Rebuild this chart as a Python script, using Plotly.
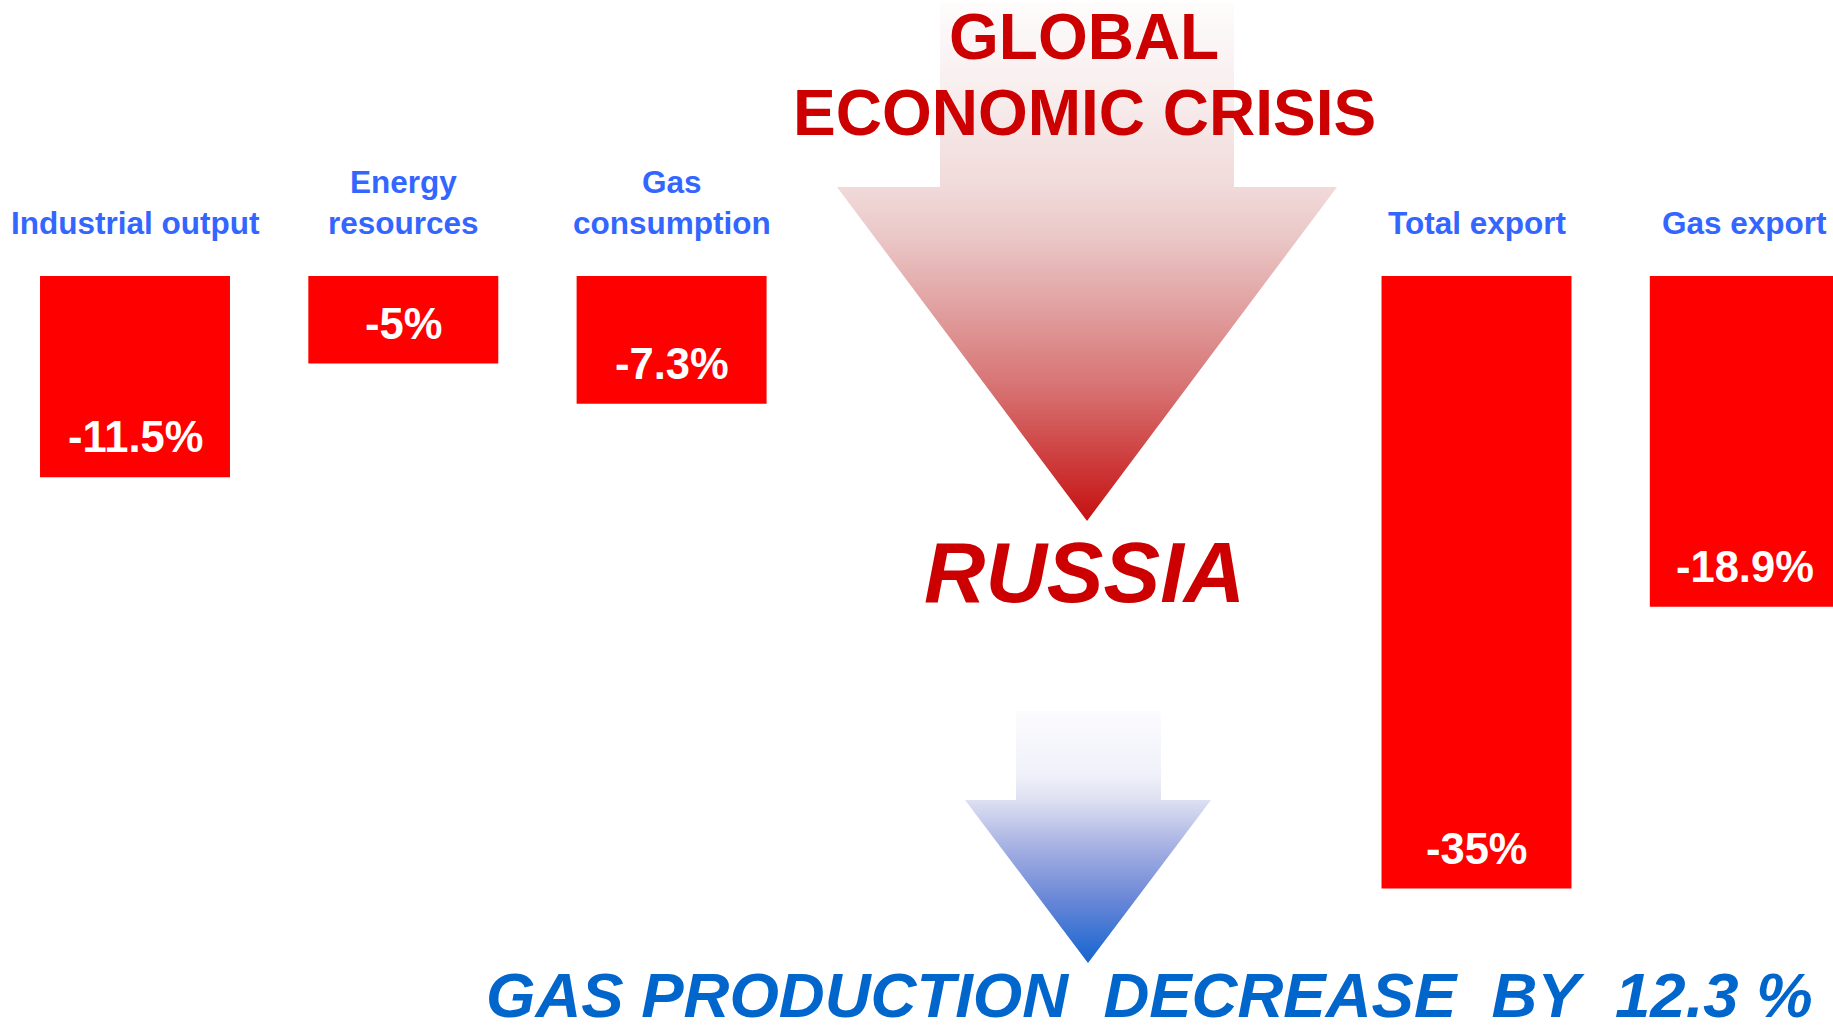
import plotly.graph_objects as go

# ---------------- data ----------------
categories = ["Industrial output", "Energy<br>resources", "Gas<br>consumption", "Total export", "Gas export"]
cat_positions = [0, 1, 2, 5, 6]
values = [-11.5, -5, -7.3, -35, -18.9]
value_labels = ["-11.5%", "-5%", "-7.3%", "-35%", "-18.9%"]

title_lines = ["GLOBAL", "ECONOMIC CRISIS"]
country = "RUSSIA"
conclusion = "GAS PRODUCTION\u00a0\u00a0DECREASE\u00a0\u00a0BY\u00a0\u00a012.3\u00a0%"

# ---------------- style / layout geometry (pixel overlay) ----------------
W, H = 1833, 1031
FONT = "Arial, Liberation Sans, sans-serif"
BAR_RED = "#FF0000"
LABEL_BLUE = "#3366FF"
TITLE_RED = "#CC0000"
BOTTOM_BLUE = "#0066CC"

red_arrow = dict(shaft=(940, 1234), top=2, head_top=187, head=(837, 1337), tip=(1087, 521))
blue_arrow = dict(shaft=(1016, 1161), top=711, head_top=800, head=(965, 1211), tip=(1088, 963))

red_scale = [
    [0.00, "rgb(254,252,252)"],
    [0.17, "rgb(248,238,238)"],
    [0.36, "rgb(241,217,217)"],
    [0.45, "rgb(235,200,200)"],
    [0.59, "rgb(225,160,160)"],
    [0.75, "rgb(215,112,112)"],
    [0.88, "rgb(206,62,62)"],
    [1.00, "rgb(198,16,16)"],
]
blue_scale = [
    [0.00, "rgb(252,252,255)"],
    [0.25, "rgb(240,241,250)"],
    [0.35, "rgb(222,225,242)"],
    [0.55, "rgb(163,174,226)"],
    [0.75, "rgb(105,135,215)"],
    [1.00, "rgb(20,100,208)"],
]


def arrow_path(a):
    (sx0, sx1), top, ht, (hx0, hx1), (tx, ty) = a["shaft"], a["top"], a["head_top"], a["head"], a["tip"]
    xs = [sx0, sx1, sx1, hx1, tx, hx0, sx0, sx0]
    ys = [top, top, ht, ht, ty, ht, ht, top]
    return xs, ys


fig = go.Figure()

# bars
fig.add_trace(go.Bar(
    x=cat_positions, y=values, width=0.708,
    marker=dict(color=BAR_RED, line=dict(width=0)),
    hoverinfo="skip", showlegend=False,
))

# arrows on pixel overlay axes
for a, cs in ((red_arrow, red_scale), (blue_arrow, blue_scale)):
    xs, ys = arrow_path(a)
    fig.add_trace(go.Scatter(
        x=xs, y=ys, xaxis="x2", yaxis="y2", mode="lines",
        line=dict(width=0), fill="toself",
        fillgradient=dict(type="vertical", colorscale=cs, start=a["top"], stop=a["tip"][1]),
        hoverinfo="skip", showlegend=False,
    ))

annotations = []
# category labels above bars
for pos, cat in zip(cat_positions, categories):
    annotations.append(dict(
        x=pos, y=0, xref="x", yref="y", text=f"<b>{cat}</b>", showarrow=False,
        yanchor="bottom", yshift=33, font=dict(family=FONT, size=31.5, color=LABEL_BLUE),
    ))
# value labels inside bars
for pos, v, lab in zip(cat_positions, values, value_labels):
    annotations.append(dict(
        x=pos, y=v, xref="x", yref="y", text=f"<b>{lab}</b>", showarrow=False,
        yanchor="middle", yshift=40, font=dict(family=FONT, size=43.5, color="white"),
    ))
# title lines
for txt, yy in zip(title_lines, (37, 113)):
    annotations.append(dict(
        x=1084, y=yy, xref="x2", yref="y2", text=f"<b>{txt}</b>", showarrow=False,
        yanchor="middle", font=dict(family=FONT, size=64, color=TITLE_RED),
    ))
annotations.append(dict(
    x=1084, y=572, xref="x2", yref="y2", text=f"<b><i>{country}</i></b>", showarrow=False,
    yanchor="middle", font=dict(family=FONT, size=85, color=TITLE_RED),
))
annotations.append(dict(
    x=1149, y=H, xref="x2", yref="y2", text=f"<b><i>{conclusion}</i></b>", showarrow=False,
    yanchor="bottom", borderpad=0, font=dict(family=FONT, size=63.5, color=BOTTOM_BLUE),
))

PX_X, X0 = 268.3, 135
PX_Y, Y0 = 17.5, 276
fig.update_layout(
    width=W, height=H, autosize=False,
    margin=dict(l=0, r=0, t=0, b=0, pad=0),
    paper_bgcolor="white", plot_bgcolor="white",
    showlegend=False,
    xaxis=dict(range=[-X0 / PX_X, (W - X0) / PX_X], visible=False, fixedrange=True),
    yaxis=dict(range=[-(H - Y0) / PX_Y, Y0 / PX_Y], visible=False, fixedrange=True),
    xaxis2=dict(range=[0, W], visible=False, overlaying="x", anchor="y2", fixedrange=True),
    yaxis2=dict(range=[H, 0], visible=False, overlaying="y", anchor="x2", fixedrange=True),
    annotations=annotations,
)

fig.write_html("out.html", config={"displayModeBar": False},
               post_script="document.body.style.margin='0';document.body.style.overflow='hidden';")
